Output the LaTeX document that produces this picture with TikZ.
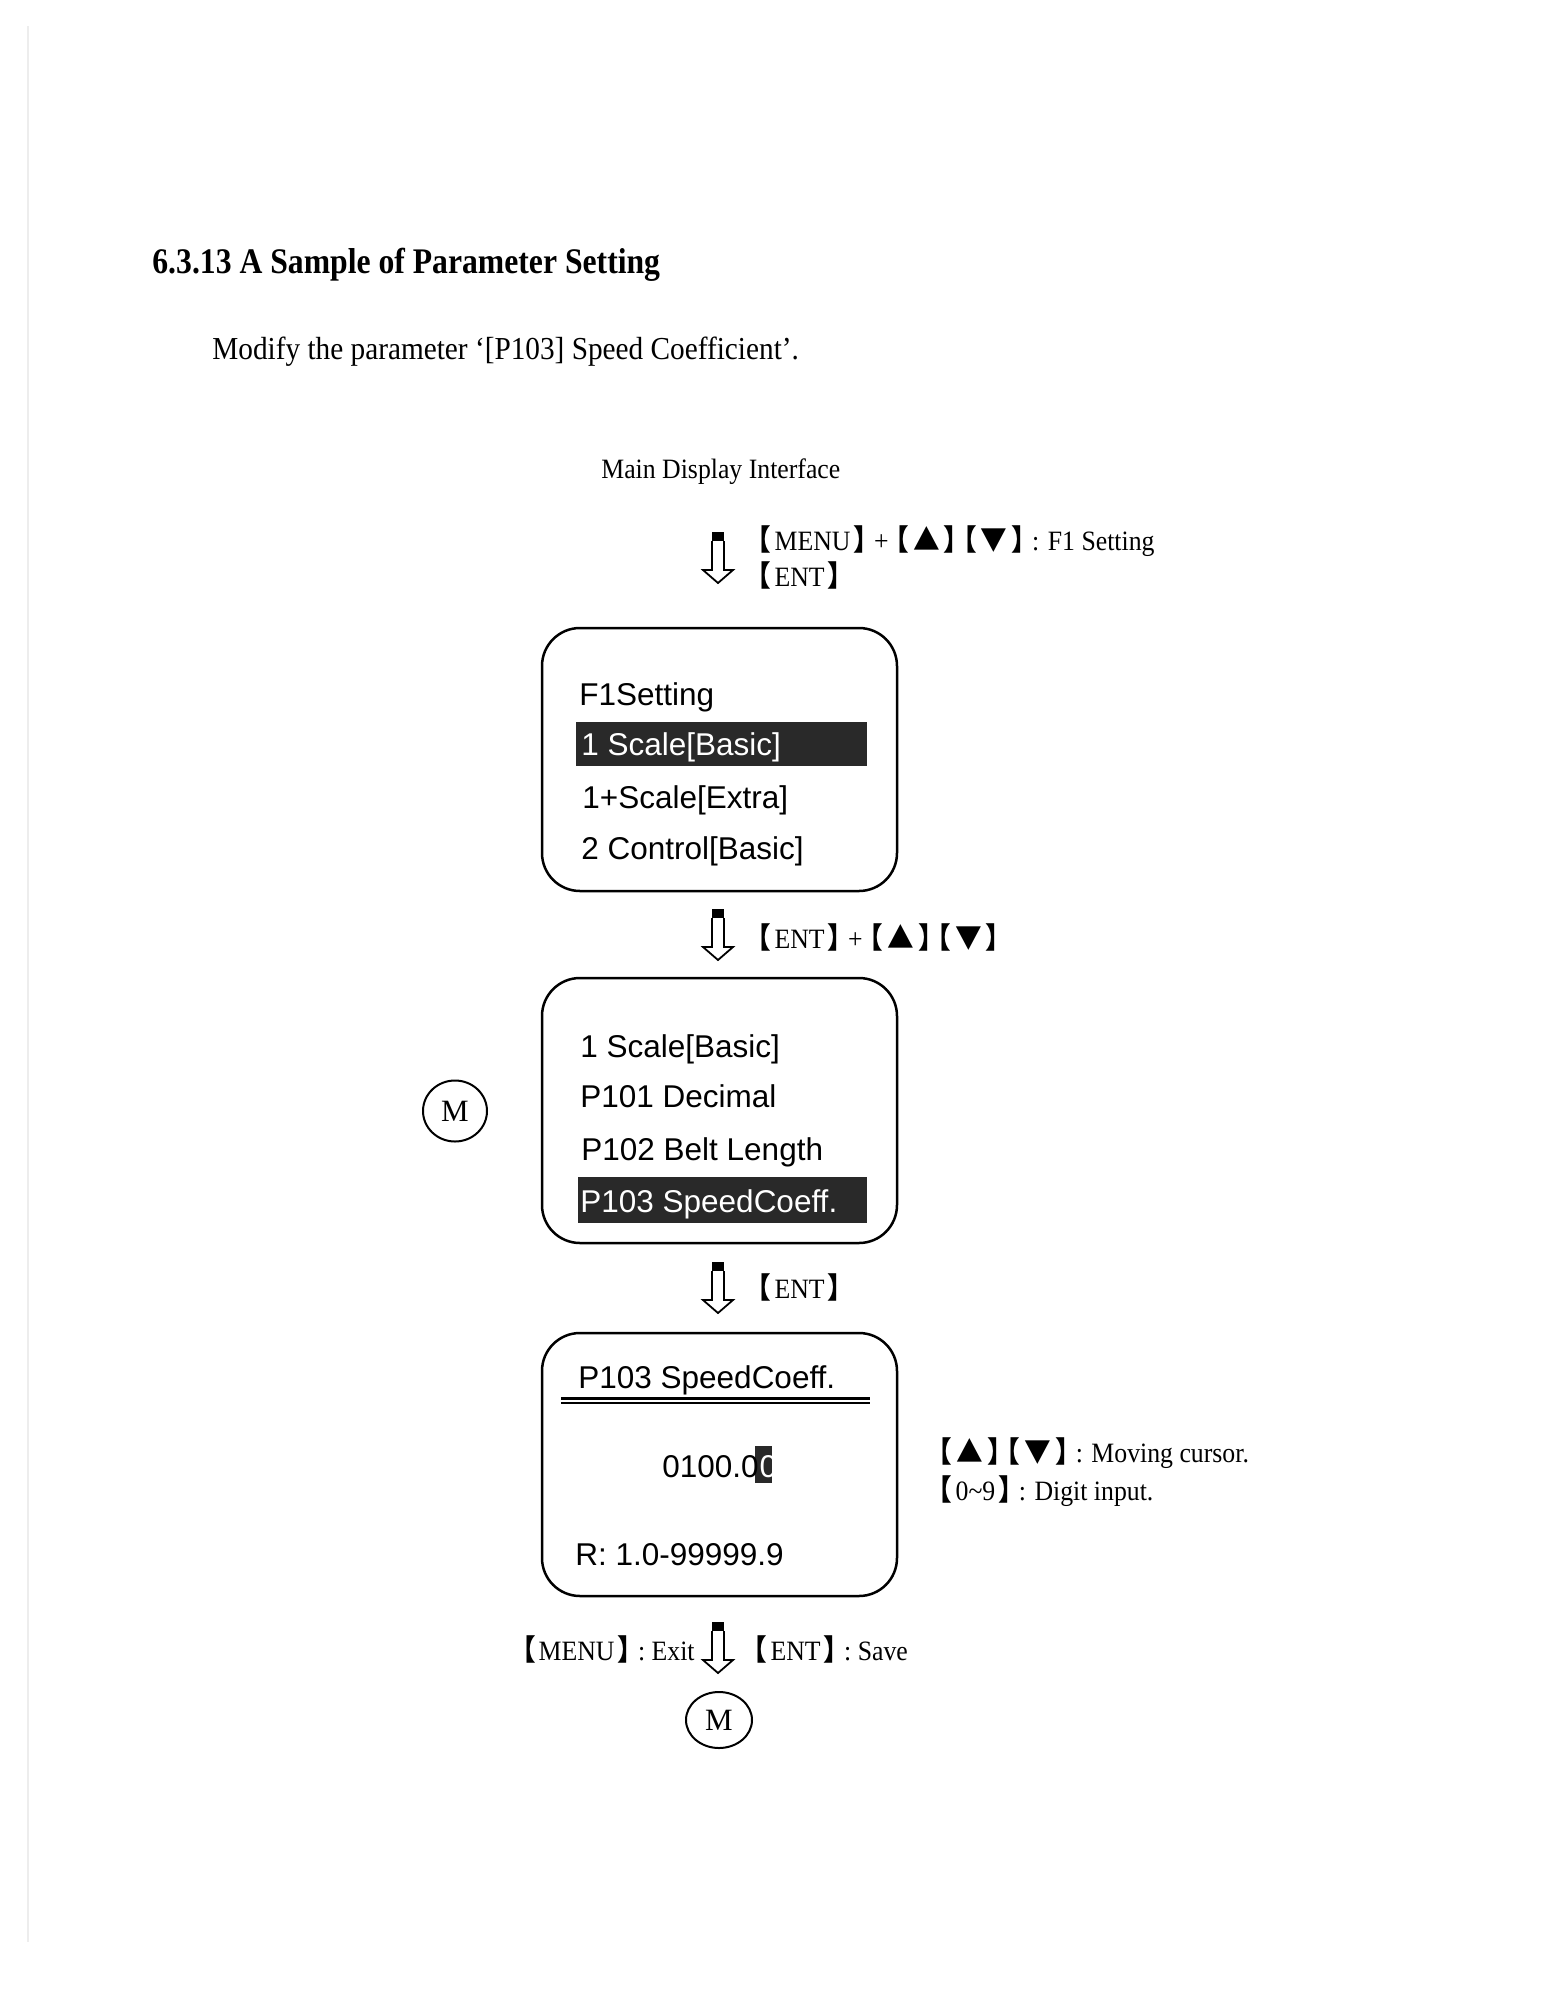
\documentclass[tikz,border=0pt]{standalone}
\usepackage{graphicx}
\usepackage{fontspec}
\setmainfont{Liberation Serif}
\newfontfamily\scrfont{Liberation Sans}
\newfontfamily\cjkfont[RawFeature=+palt]{Noto Sans CJK SC}
\usetikzlibrary{shapes.geometric}
\newcommand\CJ[1]{{\cjkfont\bfseries\fontsize{14.5}{16}\selectfont #1}}
\newcommand\keyword[1]{\kern1.2pt\CJ{【\kern2pt}#1\CJ{\kern2pt】}\kern1.2pt}
\newcommand\updown{\kern1.2pt\CJ{【\kern2.6pt▲\kern2.6pt】\kern2.6pt【\kern2.6pt▼\kern2.6pt】}\kern1.2pt}
\newcommand\narrow[1]{\scalebox{0.92}[1]{#1}}
\tikzset{
  screenbox/.style={draw, line width=1.25pt, rounded corners=19pt, minimum width=177.5pt, inner sep=0},
  scrtext/.style={anchor=base west, inner sep=0, font=\scrfont\fontsize{15.75}{18}\selectfont},
  hl/.style={fill=black!84},
  lbl/.style={anchor=base west, inner sep=0, font=\fontsize{14}{16}\selectfont},
  mcirc/.style={draw, ellipse, line width=1pt, inner sep=0, font=\fontsize{15.5}{16}\selectfont},
  hollowdown/.pic={
    \fill (-6,0) rectangle (6,9);
    \draw[line width=0.9pt, line join=miter] (-6,9) -- (-6,38) -- (-15,38) -- (0,51) -- (15,38) -- (6,38) -- (6,9);
  }
}
\begin{document}
\begin{tikzpicture}[x=0.5pt,y=-0.5pt]
\useasboundingbox (0,0) rectangle (1556,2014);
\fill[white] (0,0) rectangle (1556,2014);
\draw[black!7, line width=0.6pt] (28,26) -- (28,1942);

% heading and intro
\node[anchor=base west, inner sep=0, font=\bfseries\fontsize{18}{20}\selectfont] (title) at (152,273) {\scalebox{0.88}[1]{6.3.13 A Sample of Parameter Setting}};
\node[anchor=base west, inner sep=0, font=\fontsize{16}{18}\selectfont] (intro) at (212,359) {\scalebox{0.915}[1]{Modify the parameter ‘[P103] Speed Coefficient’.}};
\node[lbl] (main) at (601,478) {\narrow{Main Display Interface}};

% arrow 1
\pic at (718,532) {hollowdown};
\node[lbl] (l1a) at (755,550) {\narrow{\keyword{MENU}\,+\,\updown\,: F1 Setting}};
\node[lbl] (l1b) at (755,586) {\narrow{\keyword{ENT}}};

% screen 1
\node[screenbox, minimum height=131.5pt] (s1) at (719.5,759.5) {};
\fill[hl] (576,722) rectangle (867,766);
\node[scrtext] (s1a) at (579,705) {F1Setting};
\node[scrtext, text=white] (s1b) at (581,755) {1 Scale[Basic]};
\node[scrtext] (s1c) at (582,808) {1+Scale[Extra]};
\node[scrtext] (s1d) at (581,859) {2 Control[Basic]};

% arrow 2
\pic at (718,909) {hollowdown};
\node[lbl] (l2) at (755,948) {\narrow{\keyword{ENT}\,+\,\updown}};

% screen 2
\node[screenbox, minimum height=132.5pt] (s2) at (719.5,1110.5) {};
\fill[hl] (578,1177) rectangle (867,1223);
\node[scrtext] (s2a) at (580,1057) {1 Scale[Basic]};
\node[scrtext] (s2b) at (580,1107) {P101 Decimal};
\node[scrtext] (s2c) at (581,1160) {P102 Belt Length};
\node[scrtext, text=white] (s2d) at (580,1212) {P103 SpeedCoeff.};
\node[mcirc, minimum width=32pt, minimum height=30.5pt] (m1) at (455,1111) {M};

% arrow 3
\pic at (718,1262) {hollowdown};
\node[lbl] (l3) at (755,1298) {\narrow{\keyword{ENT}}};

% screen 3
\node[screenbox, minimum height=131.5pt] (s3) at (719.5,1464.5) {};
\node[scrtext] (s3a) at (578,1388) {P103 SpeedCoeff.};
\draw[line width=1.45pt] (561,1398.5) -- (870,1398.5);
\draw[line width=1.3pt] (561,1402.9) -- (870,1402.9);
\fill[hl] (755,1446) rectangle (772,1483);
\node[scrtext] (s3b) at (662,1477) {0100.0};
\node[scrtext, text=white] (s3c) at (s3b.base east) {0};
\node[scrtext] (s3d) at (575,1565) {R: 1.0-99999.9};
\node[lbl] (l4a) at (936,1462) {\narrow{\updown\,: Moving cursor.}};
\node[lbl] (l4b) at (936,1500) {\narrow{\keyword{0\textasciitilde 9}\,: Digit input.}};

% arrow 4
\pic at (718,1622) {hollowdown};
\node[lbl, anchor=base east] (l5a) at (695,1660) {\narrow{\keyword{MENU}\,: Exit}};
\node[lbl] (l5b) at (751,1660) {\narrow{\keyword{ENT}\,: Save}};
\node[mcirc, minimum width=33pt, minimum height=28pt] (m2) at (719,1720) {M};
\end{tikzpicture}
\end{document}
